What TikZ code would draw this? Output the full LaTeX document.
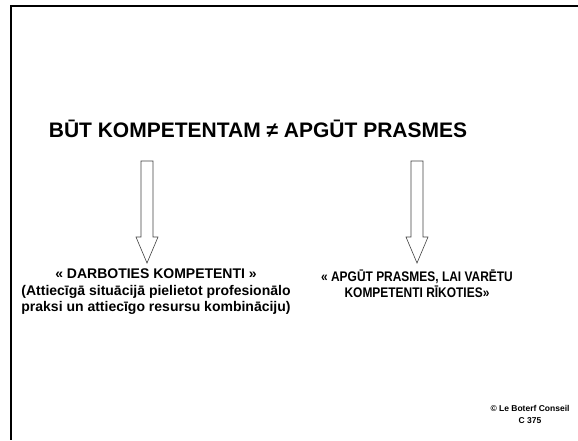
\documentclass[tikz,border=0pt]{standalone}
\usepackage{fontspec}
\setmainfont{Liberation Sans}
\newfontfamily\narrowfont[FakeStretch=0.86]{Liberation Sans}
\tikzset{
headline/.style = {font=\bfseries\fontsize{21}{24}\selectfont,
                   inner sep=0pt},
txt/.style = {font=\bfseries\fontsize{14}{16.5}\selectfont,
              align=center, inner sep=0pt},
blockarrow/.pic = {
  \draw[draw=black!75, line width=0.6pt]
    (-6,0) -- (6,0) -- (6,76) -- (11,76) -- (0,102)
    -- (-11,76) -- (-6,76) -- cycle;
}
}

\begin{document}
\begin{tikzpicture}[x=1pt, y=-1pt]
  \useasboundingbox (0,0) rectangle (578,440);
  % Frame
    \draw[line width=2pt] (578,6) -- (11,6) -- (11,440);

  % Title
    \node[headline] (title) at (258,129) {BŪT KOMPETENTAM ≠ APGŪT PRASMES};

  % Arrows
    \pic (arrowLeft) at (147,161) {blockarrow};
    \pic (arrowRight) at (417,161) {blockarrow};

  % Texts
    \node[txt] (actText) at (156,292) {« DARBOTIES KOMPETENTI »\\
      (Attiecīgā situācijā pielietot profesionālo\\
      praksi un attiecīgo resursu kombināciju)};
    \node[txt, font=\narrowfont\bfseries\fontsize{13.9}{16}\selectfont]
      (learnText) at (417,284) {« APGŪT PRASMES, LAI VARĒTU\\
      KOMPETENTI RĪKOTIES»};
    \node[txt, font=\bfseries\fontsize{8.5}{12}\selectfont]
      (copyText) at (530,414) {© Le Boterf Conseil\\C 375};
\end{tikzpicture}
\end{document}
